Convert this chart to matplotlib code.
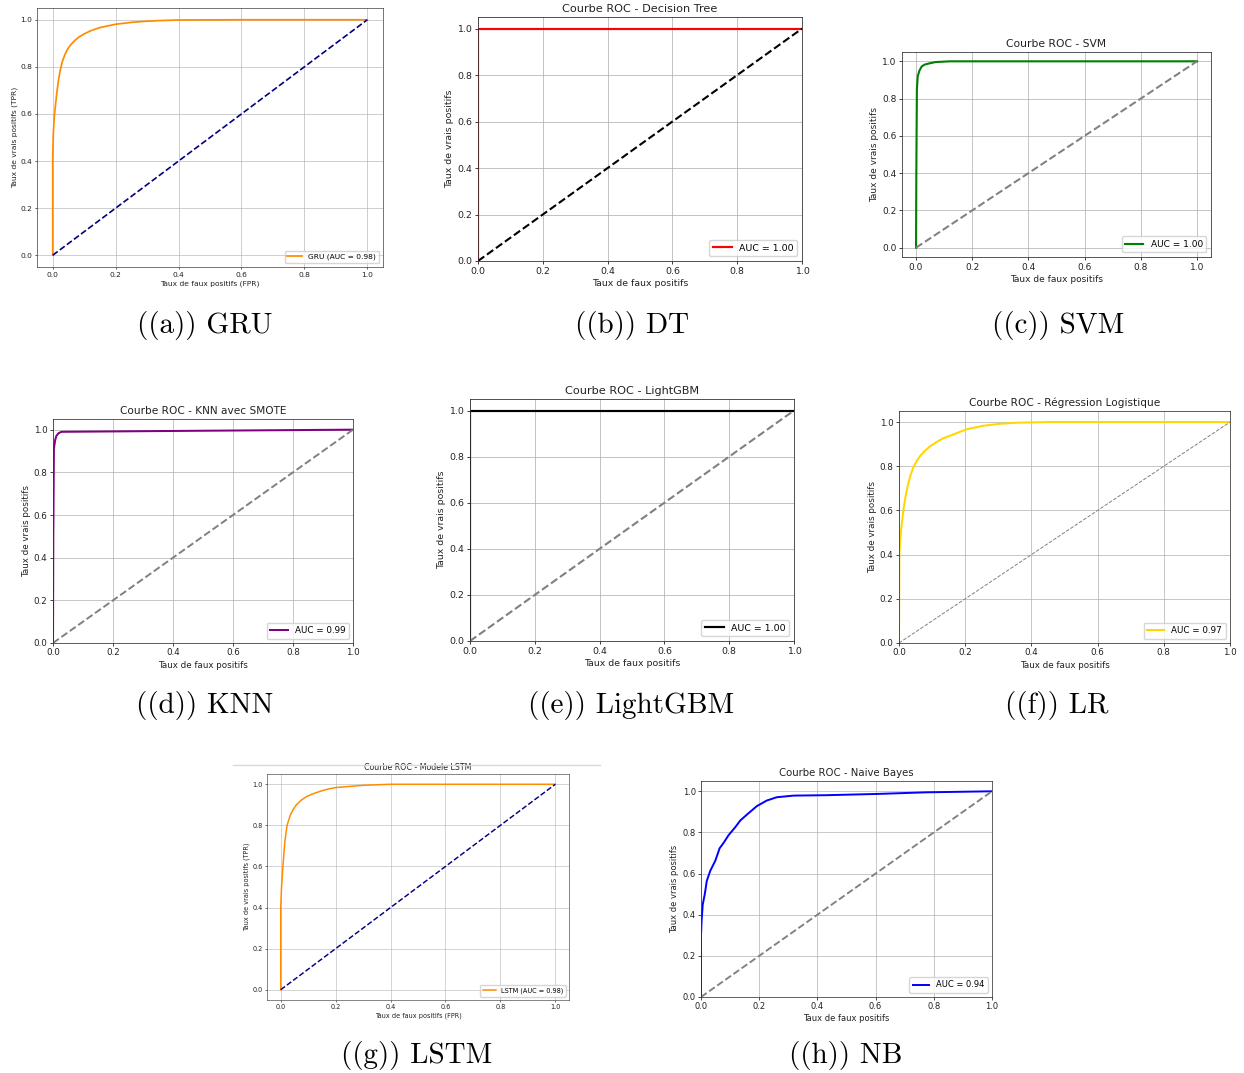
import matplotlib
matplotlib.use("Agg")
import matplotlib.pyplot as plt
from matplotlib.lines import Line2D

W, H = 1244, 1073

# ROC points
gru_fpr = [0.0, 0.0, 0.002, 0.005, 0.009, 0.013, 0.018, 0.023, 0.03, 0.038, 0.047, 0.058,
           0.07, 0.085, 0.1, 0.12, 0.15, 0.2, 0.25, 0.3, 0.35, 0.4, 0.6, 1.0]
gru_tpr = [0.0, 0.42, 0.52, 0.59, 0.64, 0.69, 0.74, 0.78, 0.82, 0.85, 0.875, 0.895,
           0.912, 0.928, 0.94, 0.953, 0.967, 0.981, 0.989, 0.994, 0.997, 0.999, 1.0, 1.0]

dt_fpr = [0.0, 0.0, 1.0]
dt_tpr = [0.0, 1.0, 1.0]

svm_fpr = [0.0, 0.001, 0.003, 0.006, 0.012, 0.02, 0.03, 0.05, 0.07, 0.12, 1.0]
svm_tpr = [0.0, 0.40, 0.85, 0.92, 0.95, 0.972, 0.982, 0.99, 0.996, 1.0, 1.0]

knn_fpr = [0.0, 0.001, 0.003, 0.007, 0.011, 0.018, 0.028, 0.5, 1.0]
knn_tpr = [0.0, 0.5, 0.91, 0.95, 0.97, 0.983, 0.99, 0.995, 1.0]

lgbm_fpr = [0.0, 0.0, 1.0]
lgbm_tpr = [0.0, 1.0, 1.0]

lr_fpr = [0.0, 0.001, 0.003, 0.007, 0.014, 0.02, 0.027, 0.034, 0.042, 0.052, 0.0625, 0.077,
          0.093, 0.113, 0.133, 0.173, 0.204, 0.254, 0.304, 0.355, 0.456, 1.0]
lr_tpr = [0.0, 0.40, 0.45, 0.52, 0.61, 0.665, 0.716, 0.755, 0.79, 0.82, 0.844, 0.868,
          0.889, 0.909, 0.926, 0.949, 0.967, 0.983, 0.992, 0.997, 1.0, 1.0]

lstm_fpr = [0.0, 0.0, 0.003, 0.0085, 0.015, 0.023, 0.035, 0.045, 0.057, 0.075, 0.094,
            0.12, 0.142, 0.17, 0.2, 0.3, 0.4, 1.0]
lstm_tpr = [0.0, 0.40, 0.50, 0.61, 0.72, 0.80, 0.85, 0.877, 0.90, 0.923, 0.94,
            0.955, 0.965, 0.976, 0.984, 0.995, 1.0, 1.0]

nb_fpr = [0.0, 0.0, 0.002, 0.006, 0.013, 0.02, 0.032, 0.049, 0.064, 0.078, 0.095, 0.118, 0.135,
          0.158, 0.192, 0.226, 0.26, 0.318, 0.432, 0.603, 0.775, 1.0]
nb_tpr = [0.0, 0.30, 0.37, 0.45, 0.50, 0.565, 0.614, 0.662, 0.723, 0.75, 0.787, 0.826, 0.858,
          0.887, 0.928, 0.955, 0.971, 0.979, 0.981, 0.987, 0.995, 1.0]

captions = ["((a)) GRU", "((b)) DT", "((c)) SVM", "((d)) KNN", "((e)) LightGBM",
            "((f)) LR", "((g)) LSTM", "((h)) NB"]

TXT = 1.12  # text runs a little larger than the line scale in the source


def add_panel(fig, box, s, fpr, tpr, color, label, title=None, diag="gray",
              diag_lw=2, fpr_tag=False, tight=True):
    l, t, r, b = box
    ax = fig.add_axes([l / W, 1 - b / H, (r - l) / W, (b - t) / H])
    ax.plot(fpr, tpr, color=color, lw=2.6 * s, label=label)
    ax.plot([0, 1], [0, 1], color=diag, lw=diag_lw * 1.25 * s, linestyle="--")
    if tight:
        ax.set_xlim(0.0, 1.0)
        ax.set_ylim(0.0, 1.05)
    ax.set_xticks([0, 0.2, 0.4, 0.6, 0.8, 1.0])
    ax.set_yticks([0, 0.2, 0.4, 0.6, 0.8, 1.0])
    f = 10 * s * TXT
    xl = "Taux de faux positifs" + (" (FPR)" if fpr_tag else "")
    yl = "Taux de vrais positifs" + (" (TPR)" if fpr_tag else "")
    ax.set_xlabel(xl, fontsize=f, labelpad=4 * s, color="#222222")
    ax.set_ylabel(yl, fontsize=f, labelpad=4 * s, color="#222222")
    if title:
        ax.set_title(title, fontsize=1.2 * f, pad=6 * s, color="#222222")
    ax.tick_params(labelsize=f, length=3.5 * s, width=0.9 * s,
                   pad=3.5 * s, labelcolor="#222222")
    for sp in ax.spines.values():
        sp.set_linewidth(1.0 * s)
        sp.set_color("#333333")
    ax.grid(True, lw=0.9 * s, color="#b0b0b0")
    ax.legend(loc="lower right", fontsize=f)
    return ax


fig = plt.figure(figsize=(W / 100, H / 100), dpi=100)

add_panel(fig, (37, 8, 383, 267), 0.48, gru_fpr, gru_tpr, "darkorange",
          "GRU (AUC = 0.98)", diag="navy", fpr_tag=True, tight=False)
add_panel(fig, (478, 17, 802, 261), 0.6, dt_fpr, dt_tpr, "red", "AUC = 1.00",
          title="Courbe ROC - Decision Tree", diag="black")
add_panel(fig, (902, 52, 1211, 257), 0.58, svm_fpr, svm_tpr, "green", "AUC = 1.00",
          title="Courbe ROC - SVM", tight=False)
add_panel(fig, (53, 419, 353, 643), 0.56, knn_fpr, knn_tpr, "purple", "AUC = 0.99",
          title="Courbe ROC - KNN avec SMOTE")
add_panel(fig, (470, 399, 794, 641), 0.6, lgbm_fpr, lgbm_tpr, "black", "AUC = 1.00",
          title="Courbe ROC - LightGBM")
add_panel(fig, (899, 411, 1230, 643), 0.56, lr_fpr, lr_tpr, "gold", "AUC = 0.97",
          title="Courbe ROC - Régression Logistique", diag_lw=1)
add_panel(fig, (267, 774, 569, 1000), 0.42, lstm_fpr, lstm_tpr, "darkorange",
          "LSTM (AUC = 0.98)", title="Courbe ROC - Modele LSTM", diag="navy",
          fpr_tag=True, tight=False)
add_panel(fig, (701, 781, 992, 997), 0.54, nb_fpr, nb_tpr, "blue", "AUC = 0.94",
          title="Courbe ROC - Naive Bayes")

# thin crop line above the LSTM panel
fig.add_artist(Line2D([233 / W, 600 / W], [1 - 765 / H, 1 - 765 / H],
                      color="#d8d8d8", lw=1))

cap_pos = [(205, 325), (632, 325), (1058, 325),
           (205, 705), (631, 705), (1057, 705),
           (417, 1055), (846, 1055)]
for txt, (cx, cy) in zip(captions, cap_pos):
    fig.text(cx / W, 1 - cy / H, txt, ha="center", va="center",
             fontsize=21, family="cmr10")

fig.savefig("out.png", dpi=100)
